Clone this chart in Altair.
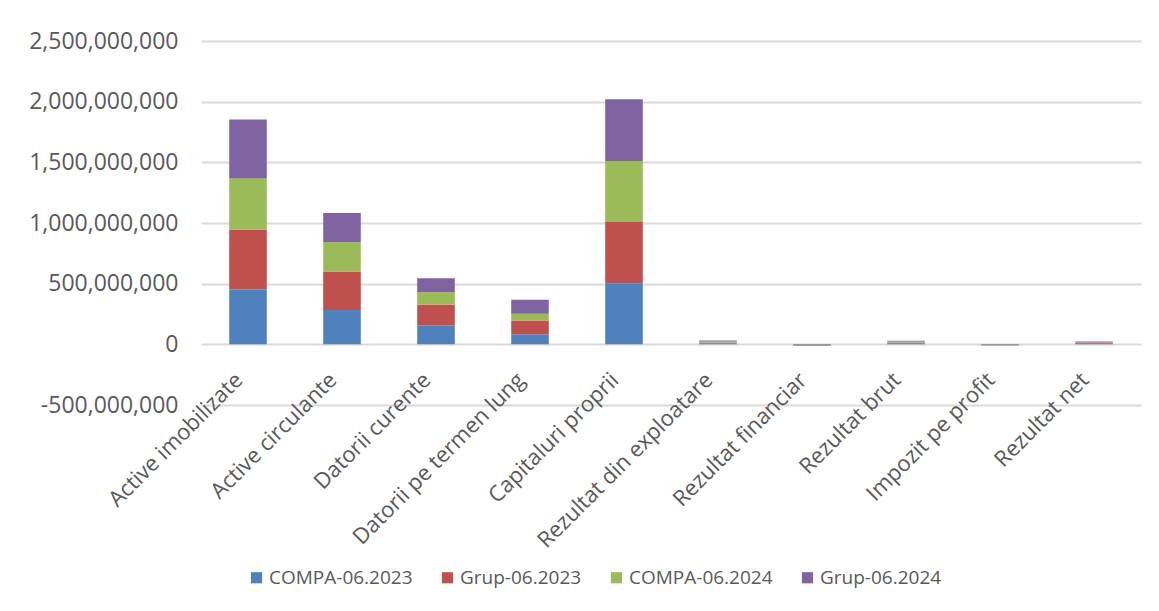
import altair as alt
import pandas as pd

categories = ["Active imobilizate", "Active circulante", "Datorii curente",
              "Datorii pe termen lung", "Capitaluri proprii", "Rezultat din exploatare",
              "Rezultat financiar", "Rezultat brut", "Impozit pe profit", "Rezultat net"]
series = ["COMPA-06.2023", "Grup-06.2023", "COMPA-06.2024", "Grup-06.2024"]
colors = ["#4F81BD", "#C0504D", "#9BBB59", "#8064A2"]

compa_2023 = [452e6, 282e6, 156e6, 82e6, 504e6, 8e6, -3e6, 8e6, -3e6, 5e6]
grup_2023 = [493e6, 318e6, 170e6, 115e6, 504e6, 8e6, -3e6, 8e6, -3e6, 6e6]
compa_2024 = [422e6, 241e6, 104e6, 55e6, 504e6, 8e6, -3e6, 7e6, -3e6, 5e6]
grup_2024 = [485e6, 241e6, 115e6, 115e6, 507e6, 8e6, -4e6, 7e6, -3e6, 7e6]

rows = []
for si, (name, vals) in enumerate(zip(series, [compa_2023, grup_2023, compa_2024, grup_2024])):
    for c, v in zip(categories, vals):
        rows.append({"Categorie": c, "Serie": name, "Valoare": v, "ord": si})
df = pd.DataFrame(rows)

font = "Open Sans"
chart = alt.Chart(df).mark_bar().encode(
    x=alt.X("Categorie:N", sort=categories, title=None,
            scale=alt.Scale(paddingInner=0.6, paddingOuter=0.3),
            axis=alt.Axis(labelAngle=-45, labelAlign="right", labelBaseline="top",
                          domain=False, ticks=False, offset=-62, labelPadding=26,
                          labelOffset=-16,
                          labelFontSize=22, labelColor="#595959", labelFont=font,
                          labelLimit=400)),
    y=alt.Y("Valoare:Q", title=None, stack="zero",
            scale=alt.Scale(domain=[-500e6, 2500e6], nice=False),
            axis=alt.Axis(values=[-500e6, 0, 500e6, 1000e6, 1500e6, 2000e6, 2500e6],
                          labelExpr="replace(format(datum.value, ',.0f'), '\u2212', '-')",
                          domain=False, ticks=False, labelPadding=23,
                          labelFontSize=23, labelColor="#595959", labelFont=font,
                          gridColor="#d9d9d9", gridWidth=2)),
    color=alt.Color("Serie:N", sort=series,
                    scale=alt.Scale(domain=series, range=colors),
                    legend=alt.Legend(title=None, orient="none", direction="horizontal",
                                      legendX=46, legendY=527,
                                      symbolType="square", symbolSize=125,
                                      symbolStrokeWidth=0, labelFontSize=19,
                                      labelOffset=3,
                                      labelColor="#595959", labelFont=font,
                                      columnPadding=25)),
    order=alt.Order("ord:Q", sort="ascending"),
).properties(width=940, height=364, padding={"left": 20, "top": 22, "right": 10, "bottom": 10}
).configure_view(stroke=None)

chart.save("out.html", embed_options={"renderer": "svg", "actions": False})
